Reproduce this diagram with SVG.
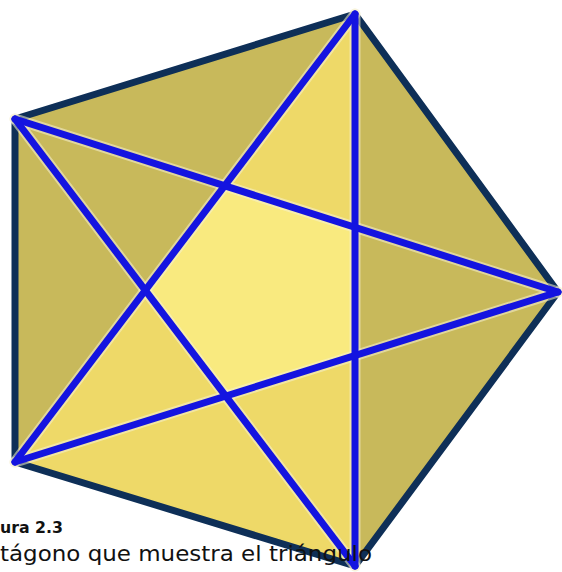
<svg xmlns="http://www.w3.org/2000/svg" width="562" height="572" viewBox="0 0 562 572">
  <style>
    .olive { fill: #c8b95b; }
    .yellow { fill: #eed968; }
    .inner { fill: #f9ea7f; }
    .edge { fill: none; stroke: #0e2f57; stroke-width: 7; stroke-linejoin: round; }
    .halo { fill: none; stroke: #f6f1d2; stroke-width: 11; stroke-opacity: 0.55; stroke-linecap: round; }
    .star { fill: none; stroke: #1414e0; stroke-width: 7; stroke-linecap: round; stroke-linejoin: round; }
    .cap1 { font-family: "DejaVu Sans", Verdana, sans-serif; font-weight: bold; font-size: 15.5px; fill: #111; }
    .cap2 { font-family: "DejaVu Sans", Verdana, sans-serif; font-size: 22px; fill: #111; }
  </style>
  <rect x="0" y="0" width="562" height="572" fill="#ffffff"/>
  <g id="pentagon">
    <polygon id="pentagon-fill" class="olive" points="355,14 558,292 355,566 15,462 15,119"/>
    <polygon id="star-point-a" class="yellow" points="355,14 224.6,185.8 355,227.3"/>
    <polygon id="lower-left" class="yellow" points="15,462 145.3,290.3 225.7,396 355,355.5 355,566"/>
    <polygon id="inner-pentagon" class="inner" points="224.6,185.8 355,227.3 355,355.5 225.7,396 145.3,290.3"/>
    <polygon id="pentagon-edge" class="edge" points="355,14 558,292 355,566 15,462 15,119"/>
  </g>
  <g id="connectors">
    <g class="halo">
      <line x1="355" y1="14" x2="355" y2="566"/>
      <line x1="355" y1="14" x2="15" y2="462"/>
      <line x1="15" y1="119" x2="558" y2="292"/>
      <line x1="15" y1="119" x2="355" y2="566"/>
      <line x1="15" y1="462" x2="558" y2="292"/>
    </g>
    <g class="star">
      <line x1="355" y1="14" x2="355" y2="566"/>
      <line x1="355" y1="14" x2="15" y2="462"/>
      <line x1="15" y1="119" x2="558" y2="292"/>
      <line x1="15" y1="119" x2="355" y2="566"/>
      <line x1="15" y1="462" x2="558" y2="292"/>
    </g>
  </g>
  <g id="caption">
    <text class="cap1" x="0" y="533" textLength="63" lengthAdjust="spacingAndGlyphs">ura 2.3</text>
    <text class="cap2" x="0" y="561" textLength="372" lengthAdjust="spacingAndGlyphs">tágono que muestra el triángulo</text>
  </g>
</svg>
